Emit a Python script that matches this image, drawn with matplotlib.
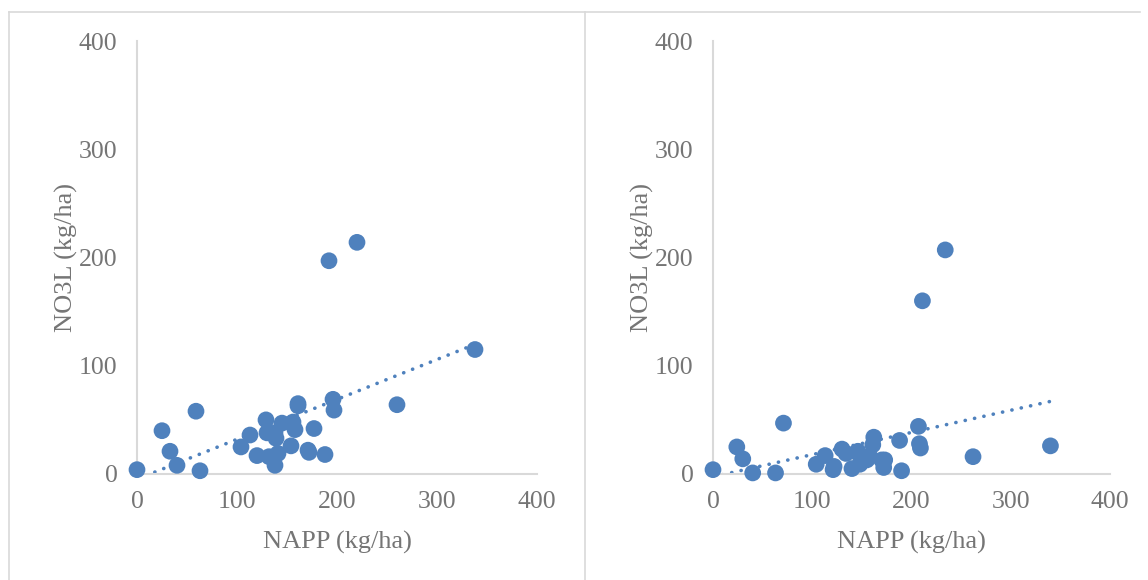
import numpy as np
import matplotlib
matplotlib.use('Agg')
import matplotlib.pyplot as plt
from matplotlib.lines import Line2D

# NAPP vs NO3L, two panels
napp_left = [0, 25, 33, 40, 59, 63, 104, 113, 120, 129, 130, 132, 138, 139, 141, 138,
             145, 154, 156, 158, 161, 161, 171, 172, 177, 188, 192, 196, 197, 220, 260, 338]
no3l_left = [4, 40, 21, 8, 58, 3, 25, 36, 17, 50, 38, 16, 38, 33, 19, 8,
             47, 26, 48, 41, 65, 63, 22, 20, 42, 18, 197, 69, 59, 214, 64, 115]

napp_right = [0, 24, 30, 40, 63, 71, 104, 113, 121, 122, 130, 134, 140, 145, 146, 148,
              155, 158, 161, 162, 170, 172, 173, 188, 190, 207, 208, 209, 211, 234, 262, 340]
no3l_right = [4, 25, 14, 1, 1, 47, 9, 17, 4, 7, 23, 19, 5, 20, 21, 9,
              13, 16, 27, 34, 13, 6, 13, 31, 3, 44, 28, 24, 160, 207, 16, 26]

ticks = [0, 100, 200, 300, 400]

blue = '#4F81BD'
grey_text = '#757575'
grey_line = '#D9D9D9'

plt.rcParams['font.family'] = ['Liberation Serif', 'DejaVu Serif']

fig = plt.figure(figsize=(11.48, 5.80), dpi=100)

# chart area borders
W, H = 1148, 580
def fx(px):
    return px / W
def fy(py):
    return 1 - py / H
fig.add_artist(Line2D([fx(9), fx(1140)], [fy(11.5), fy(11.5)], color=grey_line, lw=1.2))
fig.add_artist(Line2D([fx(9), fx(9)], [fy(11.5), 0], color=grey_line, lw=1.2))
fig.add_artist(Line2D([fx(584.5), fx(584.5)], [fy(11.5), 0], color=grey_line, lw=1.2))

panels = [
    (napp_left, no3l_left, [fx(137), fy(474), fx(537) - fx(137), fy(41) - fy(474)]),
    (napp_right, no3l_right, [fx(713), fy(474), fx(1110) - fx(713), fy(41) - fy(474)]),
]

for xs, ys, rect in panels:
    ax = fig.add_axes(rect)
    ax.scatter(xs, ys, s=145, color=blue, edgecolors='none', zorder=3, clip_on=False)
    # linear trendline like Excel
    b, a = np.polyfit(xs, ys, 1)
    tx = np.linspace(min(xs), max(xs), 100)
    ax.plot(tx, a + b * tx, color=blue, lw=2.6, linestyle=(0, (0.05, 2.6)),
            dash_capstyle='round', zorder=2)
    ax.set_xlim(0, 400)
    ax.set_ylim(0, 400)
    ax.set_xticks(ticks)
    ax.set_yticks(ticks)
    ax.tick_params(length=0, labelsize=18.5, labelcolor=grey_text)
    ax.tick_params(axis='y', pad=14)
    ax.tick_params(axis='x', pad=12)
    for side in ['top', 'right']:
        ax.spines[side].set_visible(False)
    for side in ['left', 'bottom']:
        ax.spines[side].set_color(grey_line)
        ax.spines[side].set_linewidth(1.5)
    ax.set_xlabel('NAPP (kg/ha)', fontsize=19, color=grey_text, labelpad=13)
    ax.set_ylabel('NO3L (kg/ha)', fontsize=19, color=grey_text, labelpad=1)
    ax.patch.set_alpha(0)

fig.savefig('out.png', dpi=100)
